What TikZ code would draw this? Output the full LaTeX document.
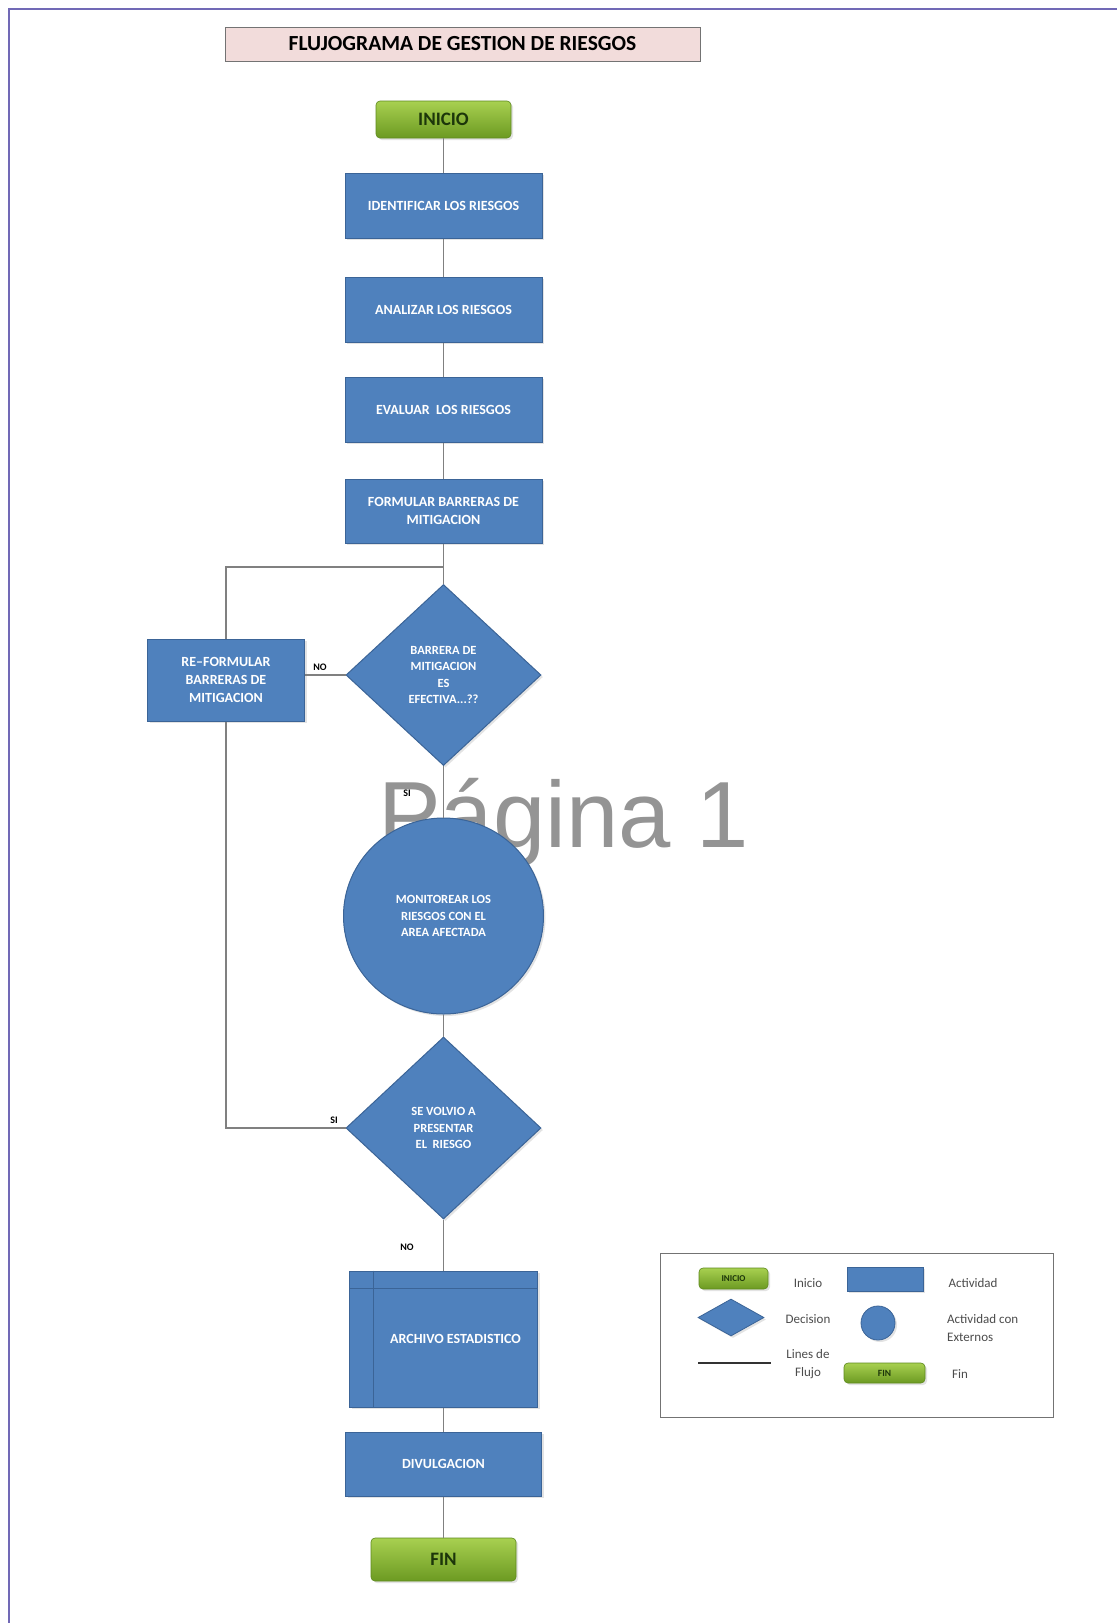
\documentclass[tikz,border=0pt]{standalone}
\usepackage{fontspec}
\setmainfont{Carlito}
\newfontfamily\wmfont{Liberation Sans}
\usetikzlibrary{shapes.geometric,shadows}
\definecolor{blueF}{HTML}{4F81BD}
\definecolor{blueD}{HTML}{3B6497}
\definecolor{greenT}{HTML}{A8D050}
\definecolor{greenB}{HTML}{6C9A22}
\definecolor{greenD}{HTML}{5E8A1E}
\definecolor{greenTxt}{HTML}{1C360A}
\definecolor{lineC}{HTML}{808080}
\definecolor{pageC}{HTML}{7169B6}
\definecolor{pinkF}{HTML}{F2DCDB}
\tikzset{
 shd/.style={drop shadow={opacity=0.22, shadow xshift=2pt, shadow yshift=-2pt}},
 act/.style={rectangle, fill=blueF, draw=blueD, line width=1pt, text=white, shd,
   font=\bfseries\fontsize{14}{18}\selectfont, align=center, inner sep=0pt,
   minimum width=197pt, minimum height=65pt},
 dec/.style={diamond, fill=blueF, draw=blueD, line width=1pt, text=white, shd,
   font=\bfseries\fontsize{12.5}{16.5}\selectfont, align=center, inner sep=0pt,
   minimum width=195pt, minimum height=181pt},
 term/.style={rectangle, rounded corners=4pt, top color=greenT, bottom color=greenB,
   draw=greenD, line width=0.6pt, text=greenTxt, shd,
   font=\bfseries\fontsize{19}{21}\selectfont, inner sep=0pt},
 flow/.style={draw=lineC, line width=1.3pt},
 lbl/.style={font=\bfseries\fontsize{10}{12}\selectfont, text=black, inner sep=0pt},
 leg/.style={font=\fontsize{13}{18}\selectfont, text=black!70, inner sep=0pt, align=center},
}
\begin{document}
\begin{tikzpicture}[x=1pt,y=-1pt]
\useasboundingbox (0,0) rectangle (1117,1623);
\fill[white] (0,0) rectangle (1117,1623);
\draw[pageC, line width=2pt] (1117,8.5) -- (8.5,8.5) -- (8.5,1623);

% watermark
\node[anchor=base west, inner sep=0pt, text=black!42,
  font=\wmfont\fontsize{94}{94}\selectfont] (wm) at (378,847) {Página 1};

% title
\node[draw=black!55, fill=pinkF, line width=1pt, minimum width=475pt, minimum height=34pt,
  inner sep=0pt, font=\bfseries\fontsize{21.5}{23}\selectfont] (title) at (462.5,44)
  {FLUJOGRAMA DE GESTION DE RIESGOS};

% main flow
\node[term, minimum width=135pt, minimum height=37pt] (inicio) at (443.5,119.5) {INICIO};
\node[act] (ident) at (443.5,205.5) {IDENTIFICAR LOS RIESGOS};
\node[act] (anal) at (443.5,309.5) {ANALIZAR LOS RIESGOS};
\node[act] (eval) at (443.5,409.5) {EVALUAR\ \ LOS RIESGOS};
\node[act, minimum height=64pt] (form) at (443.5,511) {FORMULAR BARRERAS DE\\MITIGACION};
\coordinate (j1) at (443.5,567);
\node[act, minimum width=157pt, minimum height=82pt] (reform) at (226,680)
  {RE--FORMULAR\\BARRERAS DE\\MITIGACION};
\node[dec] (d1) at (443.5,675) {BARRERA DE\\MITIGACION\\ES\\EFECTIVA...??};
\node[ellipse, fill=blueF, draw=blueD, line width=1pt, text=white, shd,
  font=\bfseries\fontsize{12.5}{16.5}\selectfont, align=center, inner sep=0pt,
  minimum width=200pt, minimum height=196pt] (mon) at (443.5,916)
  {MONITOREAR LOS\\RIESGOS CON EL\\AREA AFECTADA};
\node[dec, minimum height=182pt] (d2) at (443.5,1128) {SE VOLVIO A\\PRESENTAR\\EL\ \ RIESGO};
\node[act, minimum width=188pt, minimum height=136pt] (arch) at (443.5,1339)
  {\hspace*{24pt}ARCHIVO ESTADISTICO};
\draw[blueD, line width=1pt] ([xshift=24pt]arch.north west) -- ([xshift=24pt]arch.south west);
\draw[blueD, line width=1pt] ([yshift=-18pt]arch.north west) -- ([yshift=-18pt]arch.north east);
\node[act, minimum width=196pt, minimum height=64pt] (div) at (443.5,1464) {DIVULGACION};
\node[term, minimum width=145pt, minimum height=43pt] (fin) at (443.5,1559.5) {FIN};

% connectors
\draw[flow] (inicio.south) -- (ident.north);
\draw[flow] (ident.south) -- (anal.north);
\draw[flow] (anal.south) -- (eval.north);
\draw[flow] (eval.south) -- (form.north);
\draw[flow] (form.south) -- (j1) -- (d1.north);
\draw[flow] (j1) -- (reform.north |- j1) -- (reform.north);
\draw[flow] (d1.west) -- (d1.west -| reform.east);
\draw[flow] (d1.south) -- (mon.north);
\draw[flow] (mon.south) -- (d2.north);
\draw[flow] (reform.south) |- (d2.west);
\draw[flow] (d2.south) -- (arch.north);
\draw[flow] (arch.south) -- (div.north);
\draw[flow] (div.south) -- (fin.north);

% labels
\node[lbl] (no1) at (320,667) {NO};
\node[lbl] (si1) at (407,793) {SI};
\node[lbl] (si2) at (334,1120) {SI};
\node[lbl] (no2) at (407,1247) {NO};

% legend
\node[draw=black!55, line width=1pt, minimum width=393pt, minimum height=164pt, inner sep=0pt]
  (legbox) at (856.5,1335) {};
\node[term, minimum width=69pt, minimum height=21pt, font=\bfseries\fontsize{9}{10}\selectfont]
  (li) at (733.5,1278.5) {INICIO};
\node[leg] (lit) at (808,1283) {Inicio};
\node[rectangle, fill=blueF, draw=blueD, line width=0.8pt, shd, minimum width=76pt,
  minimum height=24pt, inner sep=0pt] (la) at (885,1279) {};
\node[leg] (lat) at (973,1283) {Actividad};
\node[diamond, fill=blueF, draw=blueD, line width=0.8pt, shd, minimum width=66pt,
  minimum height=37pt, inner sep=0pt] (ld) at (731,1317.5) {};
\node[leg] (ldt) at (808,1319) {Decision};
\node[circle, fill=blueF, draw=blueD, line width=0.8pt, shd, minimum size=34pt, inner sep=0pt]
  (lc) at (878,1323) {};
\node[leg, align=left, anchor=west] (lct) at (947,1328) {Actividad con\\Externos};
\coordinate (ll1) at (698,1363);
\coordinate (ll2) at (771,1363);
\draw[black!80, line width=1.2pt] (ll1) -- (ll2);
\node[leg] (llt) at (808,1364) {Lines de\\Flujo};
\node[term, minimum width=81pt, minimum height=20pt, font=\bfseries\fontsize{9.5}{10}\selectfont]
  (lf) at (884.5,1373) {FIN};
\node[leg] (lft) at (960,1374) {Fin};
\end{tikzpicture}
\end{document}
